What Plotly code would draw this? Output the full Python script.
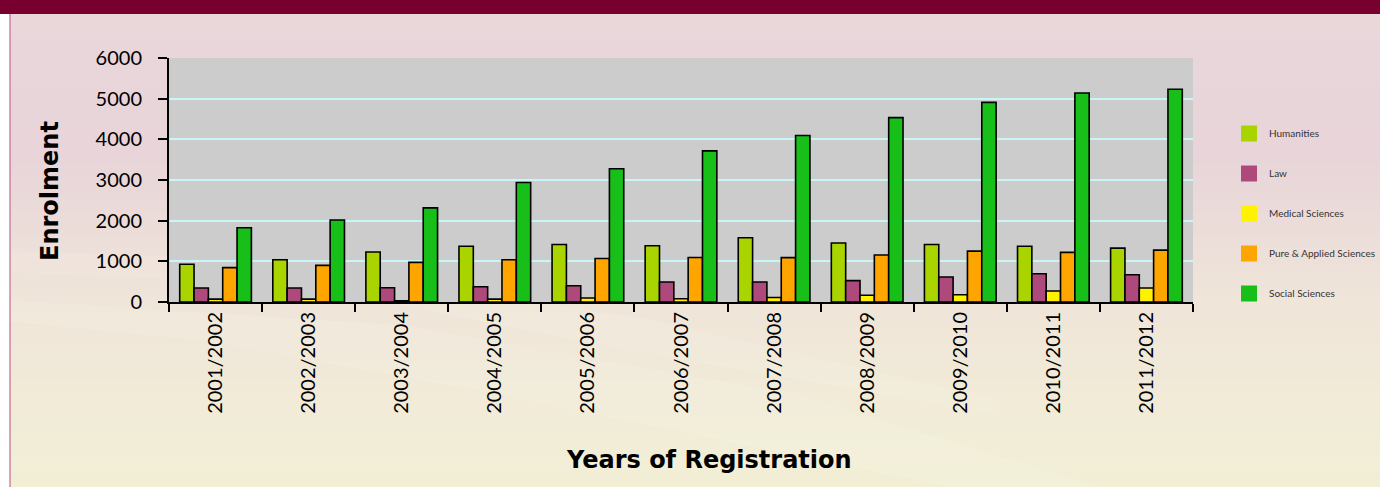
import plotly.graph_objects as go

# =========================
# DATA
# =========================
years = ["2001/2002", "2002/2003", "2003/2004", "2004/2005", "2005/2006", "2006/2007",
         "2007/2008", "2008/2009", "2009/2010", "2010/2011", "2011/2012"]

humanities = [930, 1040, 1230, 1370, 1415, 1385, 1580, 1450, 1415, 1370, 1325]
law = [345, 345, 350, 375, 400, 490, 490, 525, 615, 695, 670]
medical = [70, 70, 30, 70, 100, 80, 110, 165, 180, 270, 345]
pure_applied = [845, 900, 975, 1040, 1070, 1095, 1090, 1155, 1250, 1220, 1275]
social = [1825, 2015, 2315, 2940, 3275, 3715, 4095, 4535, 4910, 5140, 5230]

series_names = ["Humanities", "Law", "Medical Sciences", "Pure & Applied Sciences", "Social Sciences"]
series_values = [humanities, law, medical, pure_applied, social]
series_colors = ["#aad400", "#ad4a7b", "#fff200", "#ffa500", "#18bf18"]

y_ticks = [0, 1000, 2000, 3000, 4000, 5000, 6000]

# =========================
# LAYOUT HELPERS (pixel -> paper)
# =========================
W, H = 1380, 487
PL, PR, PT, PB = 169, 1193, 58, 302


def px_x(px):
    return (px - PL) / (PR - PL)


def px_y(py):
    return (PB - py) / (PB - PT)


def mix(c1, c2, t):
    a = [int(c1[i:i + 2], 16) for i in (1, 3, 5)]
    b = [int(c2[i:i + 2], 16) for i in (1, 3, 5)]
    return "rgb(%d,%d,%d)" % tuple(round(a[k] + (b[k] - a[k]) * t) for k in range(3))


# =========================
# FIGURE
# =========================
fig = go.Figure()

for name, vals, color in zip(series_names, series_values, series_colors):
    fig.add_trace(go.Bar(
        x=years,
        y=vals,
        name=name,
        marker=dict(color=color, line=dict(color="black", width=1.6)),
        showlegend=False,
        legendgroup=name
    ))

# legend entries (plain squares, like the original key)
for name, color in zip(series_names, series_colors):
    fig.add_trace(go.Scatter(
        x=[None], y=[None],
        mode="markers",
        name=name,
        legendgroup=name,
        marker=dict(symbol="square", size=20, color=color, line=dict(width=0))
    ))

# background: gradient bands, header bar, frame
shapes = []
stops = [(14, "#e9d7da"), (150, "#e8d4d9"), (300, "#efe5d9"), (400, "#f1ebd8"), (487, "#f2efd6")]
step = 6
y = 14
while y < H:
    for i in range(len(stops) - 1):
        if stops[i][0] <= y <= stops[i + 1][0]:
            t = (y - stops[i][0]) / (stops[i + 1][0] - stops[i][0])
            col = mix(stops[i][1], stops[i + 1][1], t)
            break
    shapes.append(dict(type="rect", xref="paper", yref="paper",
                       x0=px_x(10), x1=px_x(W), y0=px_y(min(y + step + 1, H)), y1=px_y(y),
                       fillcolor=col, line=dict(width=0), layer="below"))
    y += step

# faint diagonal light streaks
streaks = [
    [(10, 250), (300, 262), (650, 320), (1000, 400), (1000, 415), (600, 345), (300, 285), (10, 272)],
    [(10, 300), (400, 325), (800, 395), (1100, 487), (950, 487), (500, 395), (200, 340), (10, 322)],
]
for pts in streaks:
    path = "M " + " L ".join("%f,%f" % (px_x(a), px_y(b)) for a, b in pts) + " Z"
    shapes.append(dict(type="path", xref="paper", yref="paper", path=path,
                       fillcolor="rgba(255,255,250,0.12)", line=dict(width=0), layer="below"))

shapes.append(dict(type="rect", xref="paper", yref="paper",
                   x0=px_x(0), x1=px_x(W), y0=px_y(14), y1=px_y(0),
                   fillcolor="#78002f", line=dict(width=0), layer="below"))
shapes.append(dict(type="line", xref="paper", yref="paper",
                   x0=px_x(10), x1=px_x(10), y0=px_y(H), y1=px_y(14),
                   line=dict(color="#c46b90", width=1.2), layer="below"))
# grey plot area
shapes.append(dict(type="rect", xref="x domain", yref="y domain",
                   x0=0, x1=1, y0=0, y1=1,
                   fillcolor="#cccccc", line=dict(width=0), layer="below"))

fig.update_layout(
    width=W,
    height=H,
    autosize=False,
    margin=dict(l=PL, r=W - PR, t=PT, b=H - PB, autoexpand=False),
    paper_bgcolor="white",
    plot_bgcolor="rgba(0,0,0,0)",
    barmode="group",
    bargap=0.23,
    bargroupgap=0,
    font=dict(family="Lato, 'Open Sans', sans-serif", color="black"),
    shapes=shapes,
    showlegend=True,
    legend=dict(
        x=px_x(1229), y=px_y(119), xanchor="left", yanchor="top",
        bgcolor="rgba(0,0,0,0)",
        font=dict(size=10, color="#333333"),
        tracegroupgap=21,
        traceorder="grouped"
    ),
    annotations=[
        dict(text="<b>Enrolment</b>", xref="paper", yref="paper",
             x=px_x(50), y=px_y(191), textangle=-90, showarrow=False,
             font=dict(size=24, color="black", family="DejaVu Sans"),
             xanchor="center", yanchor="middle"),
        dict(text="<b>Years of Registration</b>", xref="paper", yref="paper",
             x=px_x(709), y=px_y(460), showarrow=False,
             font=dict(size=24, color="black", family="DejaVu Sans"),
             xanchor="center", yanchor="middle"),
    ]
)

fig.update_xaxes(
    type="category",
    showline=True, linecolor="black", linewidth=2,
    ticks="outside", tickson="boundaries", ticklen=8, tickwidth=2, tickcolor="black",
    tickangle=-90,
    tickfont=dict(size=20, color="black"),
    showgrid=False
)

fig.update_yaxes(
    range=[0, 6000],
    tickvals=y_ticks,
    showline=True, linecolor="black", linewidth=2,
    ticks="outside", ticklen=9, tickwidth=2, tickcolor="black",
    ticklabelstandoff=12,
    tickfont=dict(size=20, color="black"),
    showgrid=True, gridcolor="#c8f6f6", gridwidth=2,
    zeroline=False
)

# fixed size page: no default body margin, no scrollbars, no resize
fig.write_html(
    "out.html",
    config={"responsive": False, "displayModeBar": False},
    post_script="document.body.style.margin='0';document.body.style.overflow='hidden';"
)
